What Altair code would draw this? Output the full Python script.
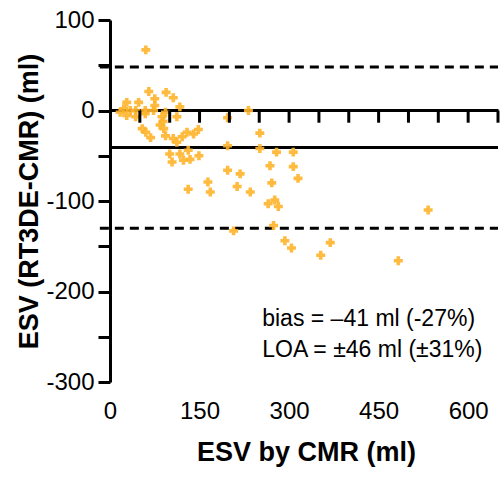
import altair as alt
import pandas as pd

# ---- data ----
esv_cmr = [60, 65, 94, 75, 106, 28, 48, 75, 117, 23, 34, 43, 59, 73, 28, 43, 59, 93, 87, 112,
           54, 60, 68, 90, 93, 106, 121, 129, 140, 148, 112,
           100, 117, 131, 134, 149, 104, 123,
           131, 164, 168, 197, 232, 251, 197, 251, 279, 307, 268, 307, 315, 197, 218, 213, 235,
           271, 265, 276, 282, 533, 207, 274, 293, 304, 369, 353, 483, 17, 89, 84]
esv_diff = [67, 21, 20, 13, 14, 9, 9, 5.5, 4, 2, 0, 0, 0, 0, -5.5, -7, -3.6, -2, -7, -7,
            -20, -24, -30, -20, -28, -31, -29, -24, -26, -21, -35,
            -48, -48, -44, -54, -50, -57, -55,
            -87, -79, -90, -8, 0, -25, -39, -42, -46, -46, -61, -62, -75, -66, -70, -84, -90,
            -80, -103, -99, -106, -110, -133, -127, -144, -152, -146, -160, -166, -2, -12, -16]
bias = -41
loa_upper = 48
loa_lower = -130
x_tick_values = list(range(50, 651, 50))
y_tick_values = list(range(-300, 101, 50))
annotations = ["bias = \u201341 ml (-27%)", "LOA = \u00b146 ml (\u00b131%)"]

pts = pd.DataFrame({"cmr": esv_cmr, "diff": esv_diff})
ticks_df = pd.DataFrame({"tickpos": x_tick_values, "top": [0] * len(x_tick_values),
                         "bottom": [-13.5] * len(x_tick_values)})
one = pd.DataFrame({"k": [0]})

FONT = "Liberation Sans"
xscale = alt.Scale(domain=[0, 650], nice=False, zero=False)
yscale = alt.Scale(domain=[-300, 100], nice=False, zero=False)

x_axis = alt.Axis(
    orient="bottom", offset=-272, values=[0, 150, 300, 450, 600], grid=False,
    domain=True, domainColor="black", domainWidth=3, ticks=False,
    labelFlush=False, labelOverlap=False,
    labelFont=FONT, labelFontSize=24, labelColor="black", labelPadding=289,
    title="ESV by CMR (ml)", titleFont=FONT, titleFontSize=27, titleFontWeight="bold",
    titleColor="black", titleX=196, titleY=342, titleAlign="center", titleBaseline="middle",
)

y_axis = alt.Axis(
    orient="left", values=y_tick_values,
    labelExpr="datum.value % 100 == 0 ? '' + datum.value : ''",
    labelFlush=False, labelOverlap=False,
    grid=False, domainColor="black", domainWidth=3, tickColor="black", tickWidth=3,
    tickSize=12, labelFont=FONT, labelFontSize=24, labelColor="black", labelPadding=4,
    title="ESV (RT3DE-CMR) (ml)", titleFont=FONT, titleFontSize=27, titleFontWeight="bold",
    titleColor="black", titleX=-81, titleY=181, titleAngle=270, titleAlign="center",
    titleBaseline="middle",
)


def xd(v):
    return alt.X(datum=v, type="quantitative", scale=xscale, axis=x_axis)


def yd(v):
    return alt.Y(datum=v, type="quantitative", scale=yscale, axis=y_axis)


bias_rule = alt.Chart(one).mark_rule(color="black", strokeWidth=3).encode(
    x=xd(0), x2=alt.X2(datum=650), y=yd(bias),
)

upper_rule = alt.Chart(one).mark_rule(color="black", strokeWidth=3, strokeDash=[9, 6]).encode(
    x=xd(-17), x2=alt.X2(datum=650), y=yd(loa_upper),
)

lower_rule = alt.Chart(one).mark_rule(color="black", strokeWidth=3, strokeDash=[9, 6]).encode(
    x=xd(-17), x2=alt.X2(datum=650), y=yd(loa_lower),
)

points = alt.Chart(pts).mark_point(
    shape="cross", filled=True, size=80, color="#FFB42A", opacity=0.9
).encode(
    x=alt.X("cmr:Q", scale=xscale, axis=x_axis),
    y=alt.Y("diff:Q", scale=yscale, axis=y_axis),
)

text1 = alt.Chart(one).mark_text(
    text=annotations[0], align="left", baseline="middle", font=FONT, fontSize=23, color="black"
).encode(x=xd(255), y=yd(-230))

text2 = alt.Chart(one).mark_text(
    text=annotations[1], align="left", baseline="middle", font=FONT, fontSize=23, color="black"
).encode(x=xd(255), y=yd(-265))

# tick marks hanging below the zero line, drawn last, all from fields
zero_ticks = alt.Chart(ticks_df).mark_rule(color="black", strokeWidth=3).encode(
    x=alt.X("tickpos:Q", scale=xscale, axis=x_axis),
    y=alt.Y("top:Q", scale=yscale, axis=y_axis),
    y2=alt.Y2("bottom:Q"),
)

chart = alt.layer(bias_rule, upper_rule, lower_rule, points, text1, text2, zero_ticks).properties(
    width=388, height=362,
    autosize=alt.AutoSizeParams(type="none"),
    padding={"left": 110, "top": 20, "right": 2, "bottom": 99},
    background="white",
).configure_view(stroke=None)

chart.save("out.html", embed_options={"renderer": "svg", "actions": False})
